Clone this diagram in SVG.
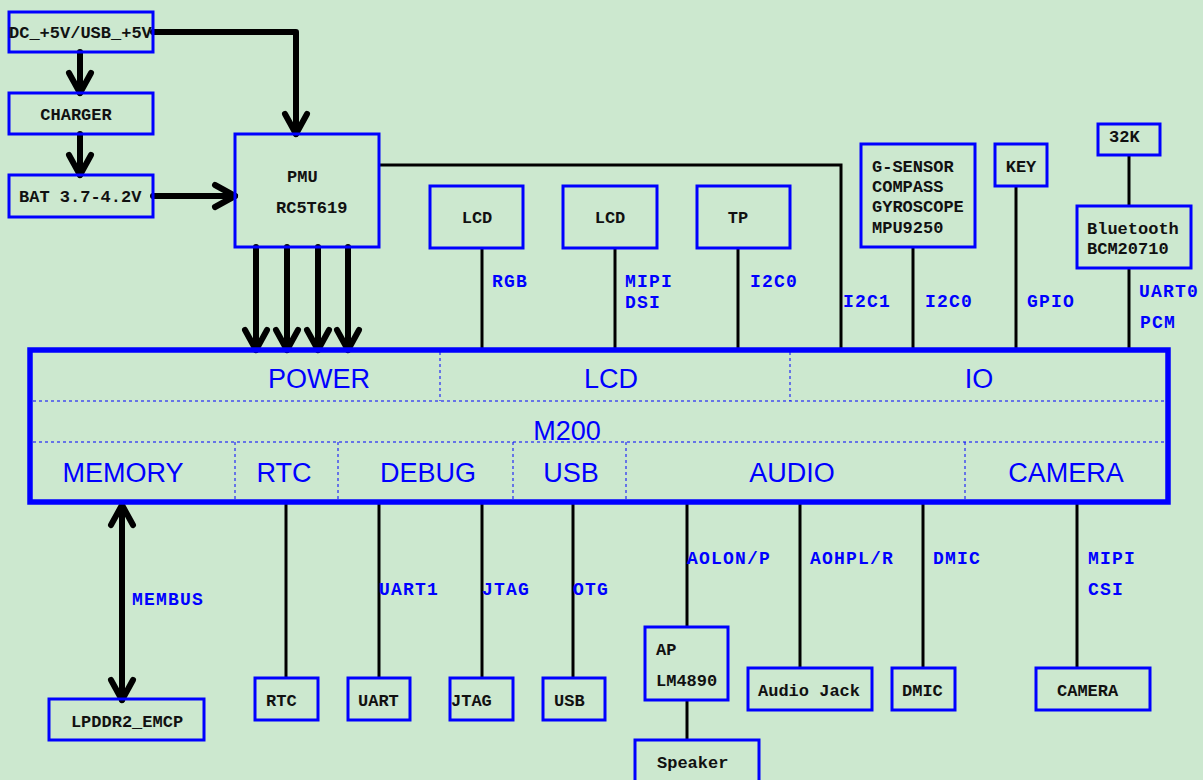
<svg xmlns="http://www.w3.org/2000/svg" width="1203" height="780" viewBox="0 0 1203 780">
<defs>
<style>
.bx{fill:none;stroke:#0000ff;stroke-width:3}
.t{font-family:"Liberation Mono","DejaVu Sans Mono",monospace;font-weight:bold;font-size:17px;fill:#111}
.c{text-anchor:middle}
.lb{font-family:"Liberation Mono","DejaVu Sans Mono",monospace;font-weight:bold;font-size:18px;fill:#0000ff;letter-spacing:1.2px}
.big{font-family:"Liberation Sans",Arial,sans-serif;font-size:27px;fill:#0000ff;text-anchor:middle}
.ln{stroke:#000;stroke-width:3;fill:none}
.th{stroke:#000;stroke-width:6;fill:none;stroke-linecap:round;stroke-linejoin:round}
.dv{stroke:#0000ff;stroke-width:1;stroke-dasharray:3 3;fill:none}
</style>
<marker id="ah" markerUnits="userSpaceOnUse" markerWidth="30" markerHeight="30" viewBox="-25 -15 30 30" refX="0" refY="0" orient="auto-start-reverse" overflow="visible">
<path d="M-20,-11 L0,0 L-20,11" fill="none" stroke="#000" stroke-width="6" stroke-linecap="round" stroke-linejoin="round"/>
</marker>
</defs>
<rect x="0" y="0" width="1203" height="780" fill="#CCE8CF"/>

<g id="connectors">
<path class="th" d="M80,52 V93" marker-end="url(#ah)"/>
<path class="th" d="M80,134 V175" marker-end="url(#ah)"/>
<path class="th" d="M153,196 H235" marker-end="url(#ah)"/>
<path class="th" d="M153,32 H296 V134" marker-end="url(#ah)"/>
<path class="th" d="M256,247 V350" marker-end="url(#ah)"/>
<path class="th" d="M287,247 V350" marker-end="url(#ah)"/>
<path class="th" d="M318,247 V350" marker-end="url(#ah)"/>
<path class="th" d="M348,247 V350" marker-end="url(#ah)"/>
<path class="th" d="M122,505 V700" marker-start="url(#ah)" marker-end="url(#ah)"/>
<path class="ln" d="M379,165 H841 V350"/>
<path class="ln" d="M482,248 V350"/>
<path class="ln" d="M615,248 V350"/>
<path class="ln" d="M738,248 V350"/>
<path class="ln" d="M913,247 V350"/>
<path class="ln" d="M1016,186 V350"/>
<path class="ln" d="M1129,155 V206"/>
<path class="ln" d="M1129,268 V350"/>
<path class="ln" d="M286,502 V678"/>
<path class="ln" d="M379,502 V678"/>
<path class="ln" d="M482,502 V678"/>
<path class="ln" d="M573,502 V678"/>
<path class="ln" d="M687,502 V627"/>
<path class="ln" d="M687,700 V740"/>
<path class="ln" d="M800,502 V668"/>
<path class="ln" d="M923,502 V668"/>
<path class="ln" d="M1077,502 V668"/>
<text class="lb" x="492" y="287">RGB</text>
<text class="lb" x="625" y="287">MIPI</text>
<text class="lb" x="625" y="308">DSI</text>
<text class="lb" x="750" y="287">I2C0</text>
<text class="lb" x="843" y="307">I2C1</text>
<text class="lb" x="925" y="307">I2C0</text>
<text class="lb" x="1027" y="307">GPIO</text>
<text class="lb" x="1139" y="297">UART0</text>
<text class="lb" x="1140" y="328">PCM</text>
<text class="lb" x="132" y="605">MEMBUS</text>
<text class="lb" x="379" y="595">UART1</text>
<text class="lb" x="482" y="595">JTAG</text>
<text class="lb" x="573" y="595">OTG</text>
<text class="lb" x="687" y="564">AOLON/P</text>
<text class="lb" x="810" y="564">AOHPL/R</text>
<text class="lb" x="933" y="564">DMIC</text>
<text class="lb" x="1088" y="564">MIPI</text>
<text class="lb" x="1088" y="595">CSI</text>
</g>

<g id="dc"><rect class="bx" x="9" y="12" width="144" height="40"/><text class="t" x="9" y="38">DC_+5V/USB_+5V</text></g>
<g id="charger"><rect class="bx" x="9" y="93" width="144" height="41"/><text class="t c" x="76" y="120">CHARGER</text></g>
<g id="bat"><rect class="bx" x="9" y="175" width="144" height="42"/><text class="t" x="19" y="202">BAT 3.7-4.2V</text></g>
<g id="pmu"><rect class="bx" x="235" y="134" width="144" height="113"/><text class="t" x="287" y="182">PMU</text><text class="t" x="276" y="213">RC5T619</text></g>
<g id="lcd-rgb"><rect class="bx" x="430" y="186" width="93" height="62"/><text class="t c" x="477" y="223">LCD</text></g>
<g id="lcd-mipi"><rect class="bx" x="563" y="186" width="94" height="62"/><text class="t c" x="610" y="223">LCD</text></g>
<g id="tp"><rect class="bx" x="697" y="186" width="93" height="62"/><text class="t c" x="738" y="223">TP</text></g>
<g id="sensor"><rect class="bx" x="861" y="144" width="114" height="103"/>
<text class="t" x="872" y="172">G-SENSOR</text><text class="t" x="872" y="192">COMPASS</text><text class="t" x="872" y="212">GYROSCOPE</text><text class="t" x="872" y="233">MPU9250</text></g>
<g id="key"><rect class="bx" x="995" y="144" width="52" height="42"/><text class="t c" x="1021" y="172">KEY</text></g>
<g id="k32"><rect class="bx" x="1098" y="124" width="62" height="31"/><text class="t" x="1109" y="142">32K</text></g>
<g id="bt"><rect class="bx" x="1077" y="206" width="114" height="62"/><text class="t" x="1087" y="234">Bluetooth</text><text class="t" x="1087" y="254">BCM20710</text></g>

<g id="m200">
<rect x="30" y="350" width="1138" height="152" fill="none" stroke="#0000ff" stroke-width="5.5"/>
<path class="dv" d="M33,401 H1165 M33,442 H1165 M440,352 V401 M790,352 V401 M235,442 V500 M338,442 V500 M513,442 V500 M626,442 V500 M965,442 V500"/>
<text class="big" x="319" y="388">POWER</text>
<text class="big" x="611" y="388">LCD</text>
<text class="big" x="979" y="388">IO</text>
<text class="big" x="567" y="440">M200</text>
<text class="big" x="123" y="482">MEMORY</text>
<text class="big" x="284" y="482">RTC</text>
<text class="big" x="428" y="482">DEBUG</text>
<text class="big" x="571" y="482">USB</text>
<text class="big" x="792" y="482">AUDIO</text>
<text class="big" x="1066" y="482">CAMERA</text>
</g>

<g id="lpddr"><rect class="bx" x="49" y="699" width="155" height="41"/><text class="t c" x="127" y="727">LPDDR2_EMCP</text></g>
<g id="rtc"><rect class="bx" x="255" y="678" width="63" height="42"/><text class="t" x="266" y="706">RTC</text></g>
<g id="uart"><rect class="bx" x="348" y="678" width="62" height="42"/><text class="t" x="358" y="706">UART</text></g>
<g id="jtag"><rect class="bx" x="450" y="678" width="63" height="42"/><text class="t" x="451" y="706">JTAG</text></g>
<g id="usb"><rect class="bx" x="543" y="678" width="62" height="42"/><text class="t" x="554" y="706">USB</text></g>
<g id="ap"><rect class="bx" x="645" y="627" width="83" height="73"/><text class="t" x="656" y="655">AP</text><text class="t" x="656" y="686">LM4890</text></g>
<g id="speaker"><rect class="bx" x="635" y="740" width="124" height="50"/><text class="t" x="657" y="768">Speaker</text></g>
<g id="audiojack"><rect class="bx" x="748" y="668" width="124" height="42"/><text class="t" x="758" y="696">Audio Jack</text></g>
<g id="dmic"><rect class="bx" x="892" y="668" width="63" height="42"/><text class="t" x="902" y="696">DMIC</text></g>
<g id="camera"><rect class="bx" x="1036" y="668" width="114" height="42"/><text class="t" x="1057" y="696">CAMERA</text></g>
</svg>
